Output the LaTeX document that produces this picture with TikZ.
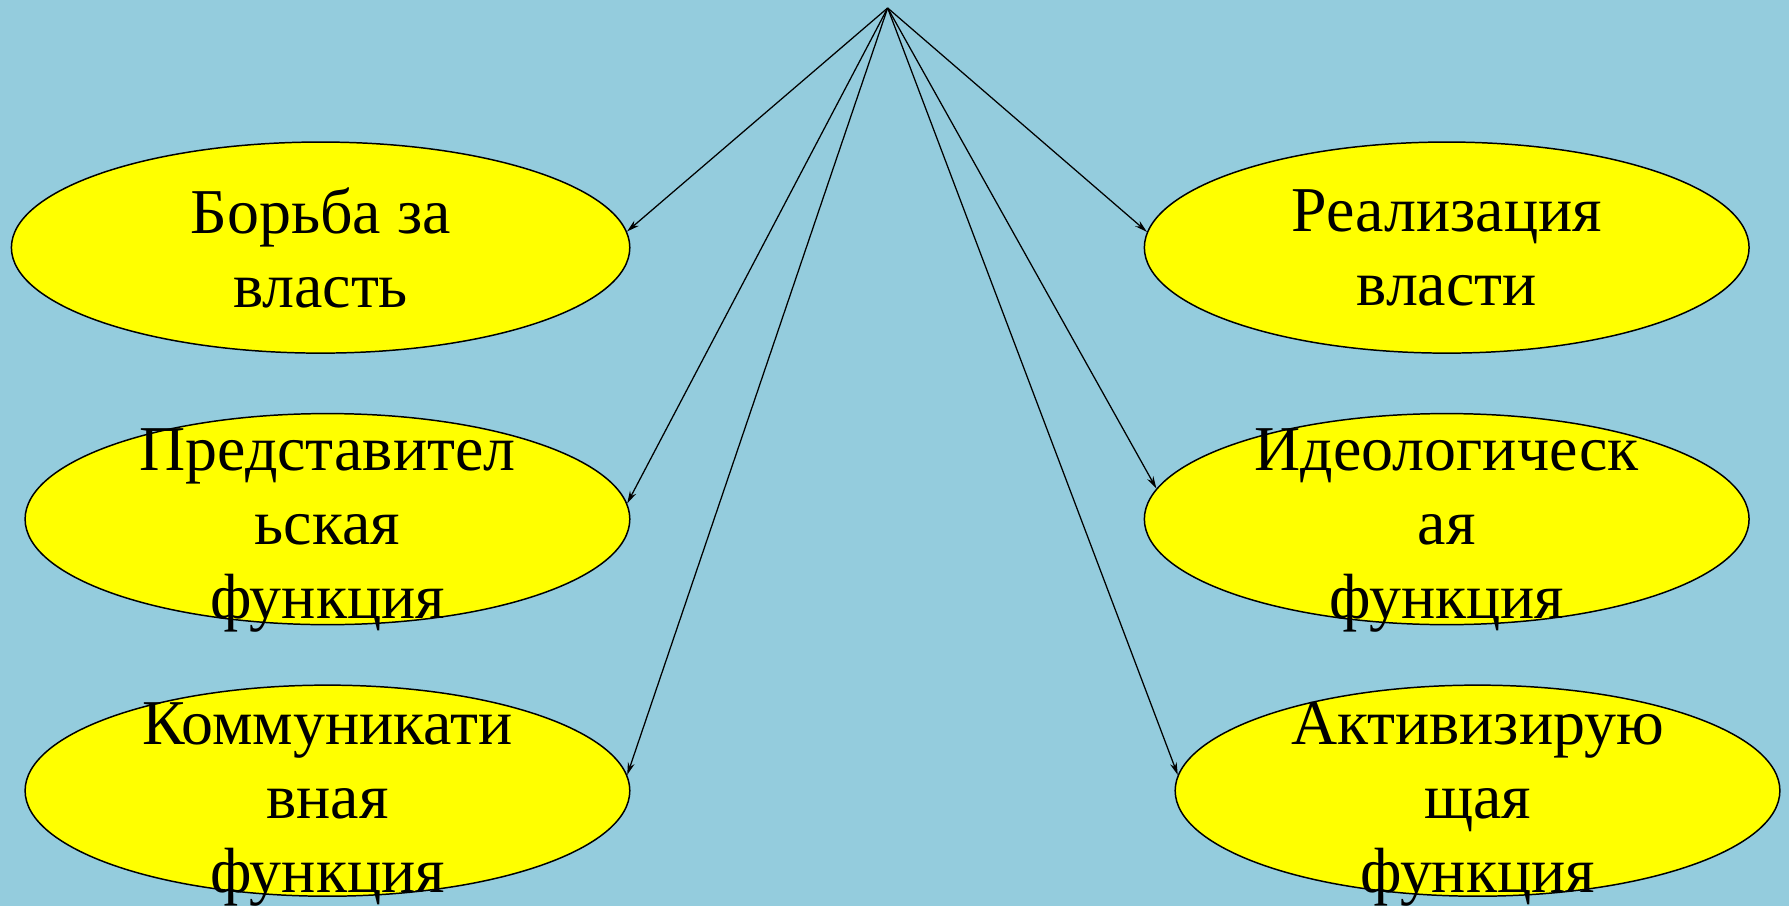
\documentclass[tikz,border=0pt]{standalone}
\usepackage{fontspec}
\setmainfont{Liberation Serif}
\usepackage{tikz}
\usetikzlibrary{arrows.meta,shapes.geometric}

\definecolor{skyback}{RGB}{148,204,221}
\definecolor{ovalfill}{RGB}{255,255,0}

\tikzset{
  oval/.style={ellipse, draw=black, line width=1.3pt, fill=ovalfill,
    minimum width=530pt, minimum height=185pt, inner sep=0pt},
  ovaltext/.style={align=center, inner sep=0pt,
    font=\fontsize{56pt}{65pt}\selectfont},
  fanarrow/.style={-{Stealth[length=11pt,width=6pt]}, line width=1.1pt}
}

\begin{document}
\begin{tikzpicture}[x=1pt, y=-1pt]
  \fill[skyback] (0,0) rectangle (1568,794);
  \useasboundingbox (0,0) rectangle (1568,794);

  \coordinate (apex) at (778,7);

  % left column
  \node[oval, minimum width=542pt] (fight) at (281,217) {};
  \node[oval] (repr) at (287,455) {};
  \node[oval] (comm) at (287,693) {};
  % right column
  \node[oval] (real) at (1268,217) {};
  \node[oval] (ideo) at (1268,455) {};
  \node[oval] (activ) at (1295,693) {};

  \node[ovaltext] at (fight) {Борьба за\\власть};
  \node[ovaltext, yshift=-10pt] at (repr) {Представител\\ьская\\функция};
  \node[ovaltext, yshift=-12pt] at (comm) {Коммуникати\\вная\\функция};
  \node[ovaltext] at (real) {Реализация\\власти};
  \node[ovaltext, yshift=-10pt] at (ideo) {Идеологическ\\ая\\функция};
  \node[ovaltext, yshift=-12pt] at (activ) {Активизирую\\щая\\функция};

  \draw[fanarrow] (apex) -- (fight.3);
  \draw[fanarrow] (apex) -- (repr.3);
  \draw[fanarrow] (apex) -- (comm.3);
  \draw[fanarrow] (apex) -- (real.177);
  \draw[fanarrow] (apex) -- (ideo.174);
  \draw[fanarrow] (apex) -- (activ.177);
\end{tikzpicture}
\end{document}
